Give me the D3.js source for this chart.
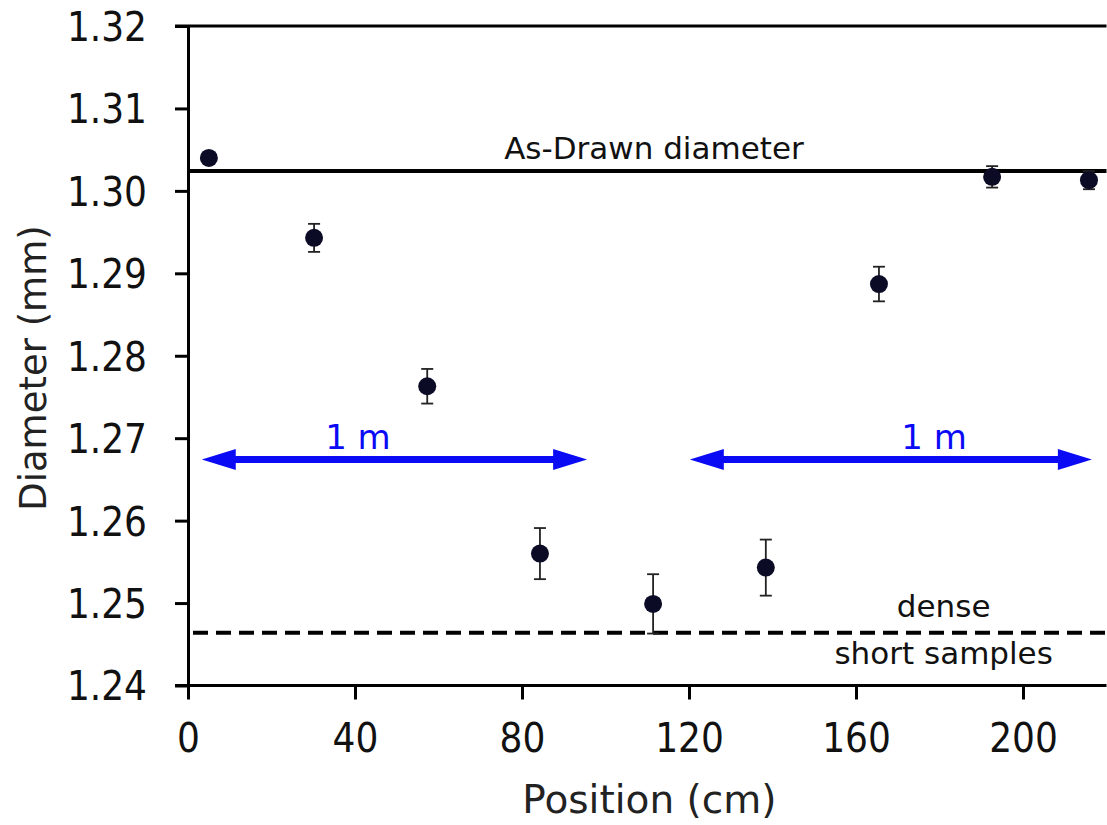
<!DOCTYPE html>
<html>
<head>
<meta charset="utf-8">
<script src="https://cdn.jsdelivr.net/npm/d3@7"></script>
<style>
  body { margin: 0; background: #fff; }
  svg text { font-family: 'DejaVu Sans', sans-serif; }
  svg .tick text { font-family: 'DejaVu Sans Condensed', 'DejaVu Sans', sans-serif; font-stretch: condensed; }
</style>
</head>
<body>
<svg id="chart" width="1107" height="825"></svg>
<script>
// ------------------------------------------------------
// DATA
// ------------------------------------------------------
var positions = [5.0, 30.2, 57.3, 84.3, 111.4, 138.4, 165.5, 192.6, 215.8];
var diameters = [1.3040, 1.2943, 1.2763, 1.2560, 1.2499, 1.2543, 1.2887, 1.3017, 1.3013];
var errors    = [0.0005, 0.0017, 0.0021, 0.0031, 0.0036, 0.0034, 0.0021, 0.0013, 0.0011];

var xTicks = [0, 40, 80, 120, 160, 200];
var yTicks = [1.24, 1.25, 1.26, 1.27, 1.28, 1.29, 1.30, 1.31, 1.32];

// reference lines
var asDrawnValue = 1.3024;
var denseValue = 1.2464;

// "1 m" arrows : [from, to, labelX] in cm, at diameter arrowY
var arrowSpans = [[3.3, 95.6, 40.7], [120.2, 216.5, 178.7]];
var arrowY = 1.2674;

// ------------------------------------------------------
// SETUP
// ------------------------------------------------------
var svg = d3.select("#chart"),
    margin = {top: 26, left: 188},
    width = 918.5,
    height = 659.5;

var x = d3.scaleLinear().domain([0, 220]).range([margin.left, margin.left + width]);
var y = d3.scaleLinear().domain([1.24, 1.32]).range([margin.top + height, margin.top]);

var data = positions.map(function(p, i) {
    return {pos: p, val: diameters[i], err: errors[i]};
});

// ------------------------------------------------------
// AXES
// ------------------------------------------------------
var xAxis = svg.append("g")
    .attr("transform", "translate(0," + y(1.24) + ")")
    .call(d3.axisBottom(x).tickValues(xTicks).tickSize(14).tickSizeOuter(0).tickPadding(24));

var yAxis = svg.append("g")
    .attr("transform", "translate(" + x(0) + ",0)")
    .call(d3.axisLeft(y).tickValues(yTicks).tickFormat(d3.format(".2f")).tickSize(13).tickSizeOuter(0).tickPadding(28));

[xAxis, yAxis].forEach(function(a) {
    a.selectAll("path, line").attr("stroke", "#000").attr("stroke-width", 3);
    a.selectAll("text").attr("fill", "#111").attr("font-size", 40);
});
xAxis.select(".domain").attr("d", "M" + (x(0) - 13) + ",0H" + x(220));
yAxis.selectAll(".tick text").attr("dy", "0.36em");

// top frame line
svg.append("line")
    .attr("x1", x(0) - 13).attr("x2", x(220))
    .attr("y1", y(1.32)).attr("y2", y(1.32))
    .attr("stroke", "#000").attr("stroke-width", 3);

svg.append("text")
    .attr("x", x(110.5)).attr("y", 813)
    .attr("text-anchor", "middle")
    .attr("font-size", 39)
    .attr("fill", "#222")
    .text("Position (cm)");

svg.append("text")
    .attr("transform", "translate(46," + y(1.2785) + ") rotate(-90)")
    .attr("text-anchor", "middle")
    .attr("font-size", 37)
    .attr("fill", "#222")
    .text("Diameter (mm)");

// ------------------------------------------------------
// REFERENCE LINES
// ------------------------------------------------------
svg.append("line")
    .attr("x1", x(0)).attr("x2", x(220))
    .attr("y1", y(asDrawnValue)).attr("y2", y(asDrawnValue))
    .attr("stroke", "#000").attr("stroke-width", 4);

svg.append("text")
    .attr("x", x(111.6)).attr("y", y(asDrawnValue) - 12)
    .attr("text-anchor", "middle")
    .attr("font-size", 31)
    .attr("fill", "#111")
    .text("As-Drawn diameter");

svg.append("line")
    .attr("x1", x(1.2)).attr("x2", x(220))
    .attr("y1", y(denseValue)).attr("y2", y(denseValue))
    .attr("stroke", "#000").attr("stroke-width", 4)
    .attr("stroke-dasharray", "15,8");

svg.append("text")
    .attr("x", x(181)).attr("y", y(denseValue) - 16)
    .attr("text-anchor", "middle")
    .attr("font-size", 31)
    .attr("fill", "#111")
    .text("dense");

svg.append("text")
    .attr("x", x(181)).attr("y", y(denseValue) + 31)
    .attr("text-anchor", "middle")
    .attr("font-size", 31)
    .attr("fill", "#111")
    .text("short samples");

// ------------------------------------------------------
// "1 m" ARROWS
// ------------------------------------------------------
var blue = "#0a0af5";
var headLen = 34, headHalf = 10.5;

arrowSpans.forEach(function(s) {
    var x1 = x(s[0]), x2 = x(s[1]), yy = y(arrowY);
    svg.append("line")
        .attr("x1", x1 + headLen - 2).attr("x2", x2 - headLen + 2)
        .attr("y1", yy).attr("y2", yy)
        .attr("stroke", blue).attr("stroke-width", 7);
    svg.append("path")
        .attr("d", "M" + x1 + "," + yy + "L" + (x1 + headLen) + "," + (yy - headHalf) + "L" + (x1 + headLen) + "," + (yy + headHalf) + "Z")
        .attr("fill", blue);
    svg.append("path")
        .attr("d", "M" + x2 + "," + yy + "L" + (x2 - headLen) + "," + (yy - headHalf) + "L" + (x2 - headLen) + "," + (yy + headHalf) + "Z")
        .attr("fill", blue);
    svg.append("text")
        .attr("x", x(s[2])).attr("y", yy - 11)
        .attr("text-anchor", "middle")
        .attr("font-size", 34)
        .attr("fill", blue)
        .text("1 m");
});

// ------------------------------------------------------
// ERROR BARS + POINTS
// ------------------------------------------------------
var bars = svg.append("g")
    .attr("stroke", "#222")
    .attr("stroke-width", 1.8)
    .selectAll("g")
    .data(data)
    .enter().append("g");

bars.append("line")
    .attr("x1", function(d) { return x(d.pos); })
    .attr("x2", function(d) { return x(d.pos); })
    .attr("y1", function(d) { return y(d.val - d.err); })
    .attr("y2", function(d) { return y(d.val + d.err); });

bars.append("line")
    .attr("x1", function(d) { return x(d.pos) - 6; })
    .attr("x2", function(d) { return x(d.pos) + 6; })
    .attr("y1", function(d) { return y(d.val - d.err); })
    .attr("y2", function(d) { return y(d.val - d.err); });

bars.append("line")
    .attr("x1", function(d) { return x(d.pos) - 6; })
    .attr("x2", function(d) { return x(d.pos) + 6; })
    .attr("y1", function(d) { return y(d.val + d.err); })
    .attr("y2", function(d) { return y(d.val + d.err); });

svg.append("g")
    .selectAll("circle")
    .data(data)
    .enter().append("circle")
    .attr("cx", function(d) { return x(d.pos); })
    .attr("cy", function(d) { return y(d.val); })
    .attr("r", 9)
    .attr("fill", "#0b0b26");
</script>
</body>
</html>
